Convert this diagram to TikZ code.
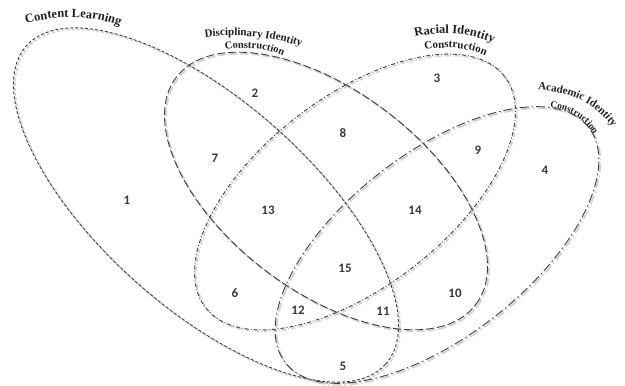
\documentclass[tikz,border=0pt]{standalone}
\usepackage{fontspec}
\setmainfont{Liberation Serif}
\newfontfamily\numfont{Carlito}
\usetikzlibrary{decorations.text}
\definecolor{linecol}{HTML}{3C3C3C}
\definecolor{numcol}{HTML}{3A3A3A}
\definecolor{shadcol}{HTML}{D2D2D2}
\definecolor{titlecol}{HTML}{202020}
\newcommand{\curvtitle}[4][center]{%
  \path[decorate, decoration={text along path, text align=#1,
    text={|\bfseries\fontsize{#2}{#2}\selectfont\color{titlecol}|#3}}] #4;}
\begin{document}
\begin{tikzpicture}[x=1pt,y=-1pt,
  ell/.style={line width=0.9pt, draw=linecol},
  shad/.style={line width=1.8pt, draw=shadcol},
  contentpat/.style={dash pattern=on 3pt off 2pt},
  discpat/.style={dash pattern=on 8pt off 3pt},
  racialpat/.style={dash pattern=on 4pt off 2pt on 1pt off 2pt},
  acadpat/.style={dash pattern=on 9pt off 3pt on 1.5pt off 3pt},
  num/.style={font=\numfont\bfseries\fontsize{13}{13}\selectfont, text=numcol, inner sep=0pt}
]
\useasboundingbox (0,0) rectangle (625,386);

% ellipse centres
\coordinate (cC) at (206,205);
\coordinate (cD) at (326,191);
\coordinate (cR) at (355,192);
\coordinate (cA) at (437,245);
\coordinate (sC) at (207.5,206.5);
\coordinate (sD) at (327.5,192.5);
\coordinate (sR) at (356.5,193.5);
\coordinate (sA) at (438.5,246.5);

% shadows
\draw[shad, contentpat] (sC) ellipse [x radius=240pt, y radius=104pt, rotate=-41.5];
\draw[shad, discpat] (sD) ellipse [x radius=188pt, y radius=100pt, rotate=-37.2];
\draw[shad, racialpat] (sR) ellipse [x radius=189pt, y radius=95pt, rotate=37.7];
\draw[shad, acadpat] (sA) ellipse [x radius=192pt, y radius=92pt, rotate=37.8];

% ellipses
\draw[ell, contentpat] (cC) ellipse [x radius=240pt, y radius=104pt, rotate=-41.5];
\draw[ell, discpat] (cD) ellipse [x radius=188pt, y radius=100pt, rotate=-37.2];
\draw[ell, racialpat] (cR) ellipse [x radius=189pt, y radius=95pt, rotate=37.7];
\draw[ell, acadpat] (cA) ellipse [x radius=192pt, y radius=92pt, rotate=37.8];

% region numbers
\node[num] (n1) at (127,200) {1};
\node[num] (n2) at (255,93) {2};
\node[num] (n3) at (437,78) {3};
\node[num] (n4) at (545,170) {4};
\node[num] (n5) at (343,366) {5};
\node[num] (n6) at (235,293) {6};
\node[num] (n7) at (215,158) {7};
\node[num] (n8) at (343,133) {8};
\node[num] (n9) at (478,150) {9};
\node[num] (n10) at (455,293) {10};
\node[num] (n11) at (383,311) {11};
\node[num] (n12) at (298,310) {12};
\node[num] (n13) at (268,210) {13};
\node[num] (n14) at (415,210) {14};
\node[num] (n15) at (345,268) {15};

% titles
\curvtitle{12.5}{Content Learning}{(22,25) .. controls (50,15) and (95,14) .. (124,28)}
\curvtitle{11}{Disciplinary Identity}{(202,38) .. controls (230,33) and (275,36) .. (304,48)}
\curvtitle{10.5}{Construction}{(221,51) .. controls (240,46) and (268,47) .. (287,58)}
\curvtitle{12.5}{Racial Identity}{(412,38) .. controls (435,31) and (470,31) .. (496,45)}
\curvtitle{11}{Construction}{(420,51) .. controls (440,46) and (470,46) .. (490,58)}
\curvtitle[left]{11}{Academic Identity}{(538,90) .. controls (566,91) and (597,102) .. (614,130)}
\curvtitle[left]{9.5}{Construction}{(550,108) .. controls (569,110) and (586,118) .. (594,136)}
\end{tikzpicture}
\end{document}
